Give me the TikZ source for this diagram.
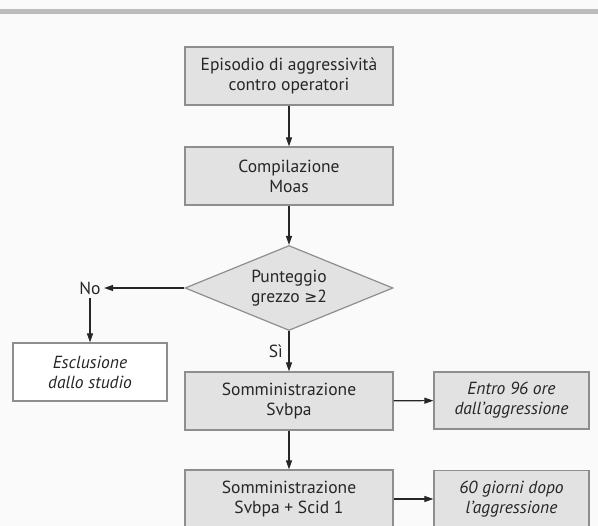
\documentclass[tikz,border=0pt]{standalone}
\usepackage{fontspec}
\setmainfont{PT Sans}
\newfontfamily\symf{DejaVu Sans}
\usetikzlibrary{shapes.geometric,arrows.meta}
\definecolor{boxfill}{HTML}{E2E2E2}
\definecolor{boxline}{HTML}{8E8E8E}
\definecolor{txt}{HTML}{262626}
\definecolor{bar}{HTML}{BBBBBB}
\begin{document}
\begin{tikzpicture}[x=1pt,y=-1pt,
  every node/.style={text=txt,font=\fontsize{17.5pt}{20pt}\selectfont,align=center},
  gbox/.style={draw=boxline,fill=boxfill,line width=1.2pt,minimum width=208pt,minimum height=58pt,inner sep=0pt},
  sbox/.style={draw=boxline,fill=boxfill,line width=1.2pt,minimum width=155pt,minimum height=57pt,inner sep=0pt,font=\fontsize{17.5pt}{20pt}\selectfont\itshape},
  wbox/.style={draw=boxline,fill=white,line width=1.2pt,minimum width=154pt,minimum height=58pt,inner sep=0pt,font=\fontsize{17.5pt}{20pt}\selectfont\itshape},
  conn/.style={draw=txt,line width=1.1pt,-{Triangle[length=9pt,width=6pt]}}]
\useasboundingbox (0,0) rectangle (598,526);
\clip (0,0) rectangle (598,526);
\fill[white!98!black] (0,0) rectangle (598,526);
\fill[bar] (0,9.5) rectangle (598,14.5);
\node[gbox] (b1) at (289,76) {Episodio di aggressività\\contro operatori};
\node[gbox] (b2) at (289,176) {Compilazione\\Moas};
\node[diamond,draw=boxline,fill=boxfill,line width=1.2pt,inner sep=0pt,aspect=2.45,minimum width=208pt,minimum height=85pt] (d) at (289,288) {Punteggio\\grezzo {\symf\fontsize{15.5pt}{20pt}\selectfont ≥}2};
\node (no) at (90,288) {No};
\node[wbox] (ex) at (90,372) {Esclusione\\dallo studio};
\node[gbox] (b3) at (289,401) {Somministrazione\\Svbpa};
\node[sbox] (r1) at (511.5,400.5) {Entro 96 ore\\dall’aggressione};
\node[gbox] (b4) at (289,499) {Somministrazione\\Svbpa + Scid 1};
\node[sbox] (r2) at (511.5,499) {60 giorni dopo\\l’aggressione};
\node[anchor=east,inner sep=0pt] (si) at (283,351) {Sì};
\draw[conn] (b1) -- (b2);
\draw[conn] (b2) -- (d);
\draw[conn] (d.west) -- (no.east);
\draw[conn] (no.south) -- (ex.north);
\draw[conn] (d.south) -- (b3.north);
\draw[conn] (b3) -- (r1);
\draw[conn] (b3) -- (b4);
\draw[conn] (b4) -- (r2);
\end{tikzpicture}
\end{document}
